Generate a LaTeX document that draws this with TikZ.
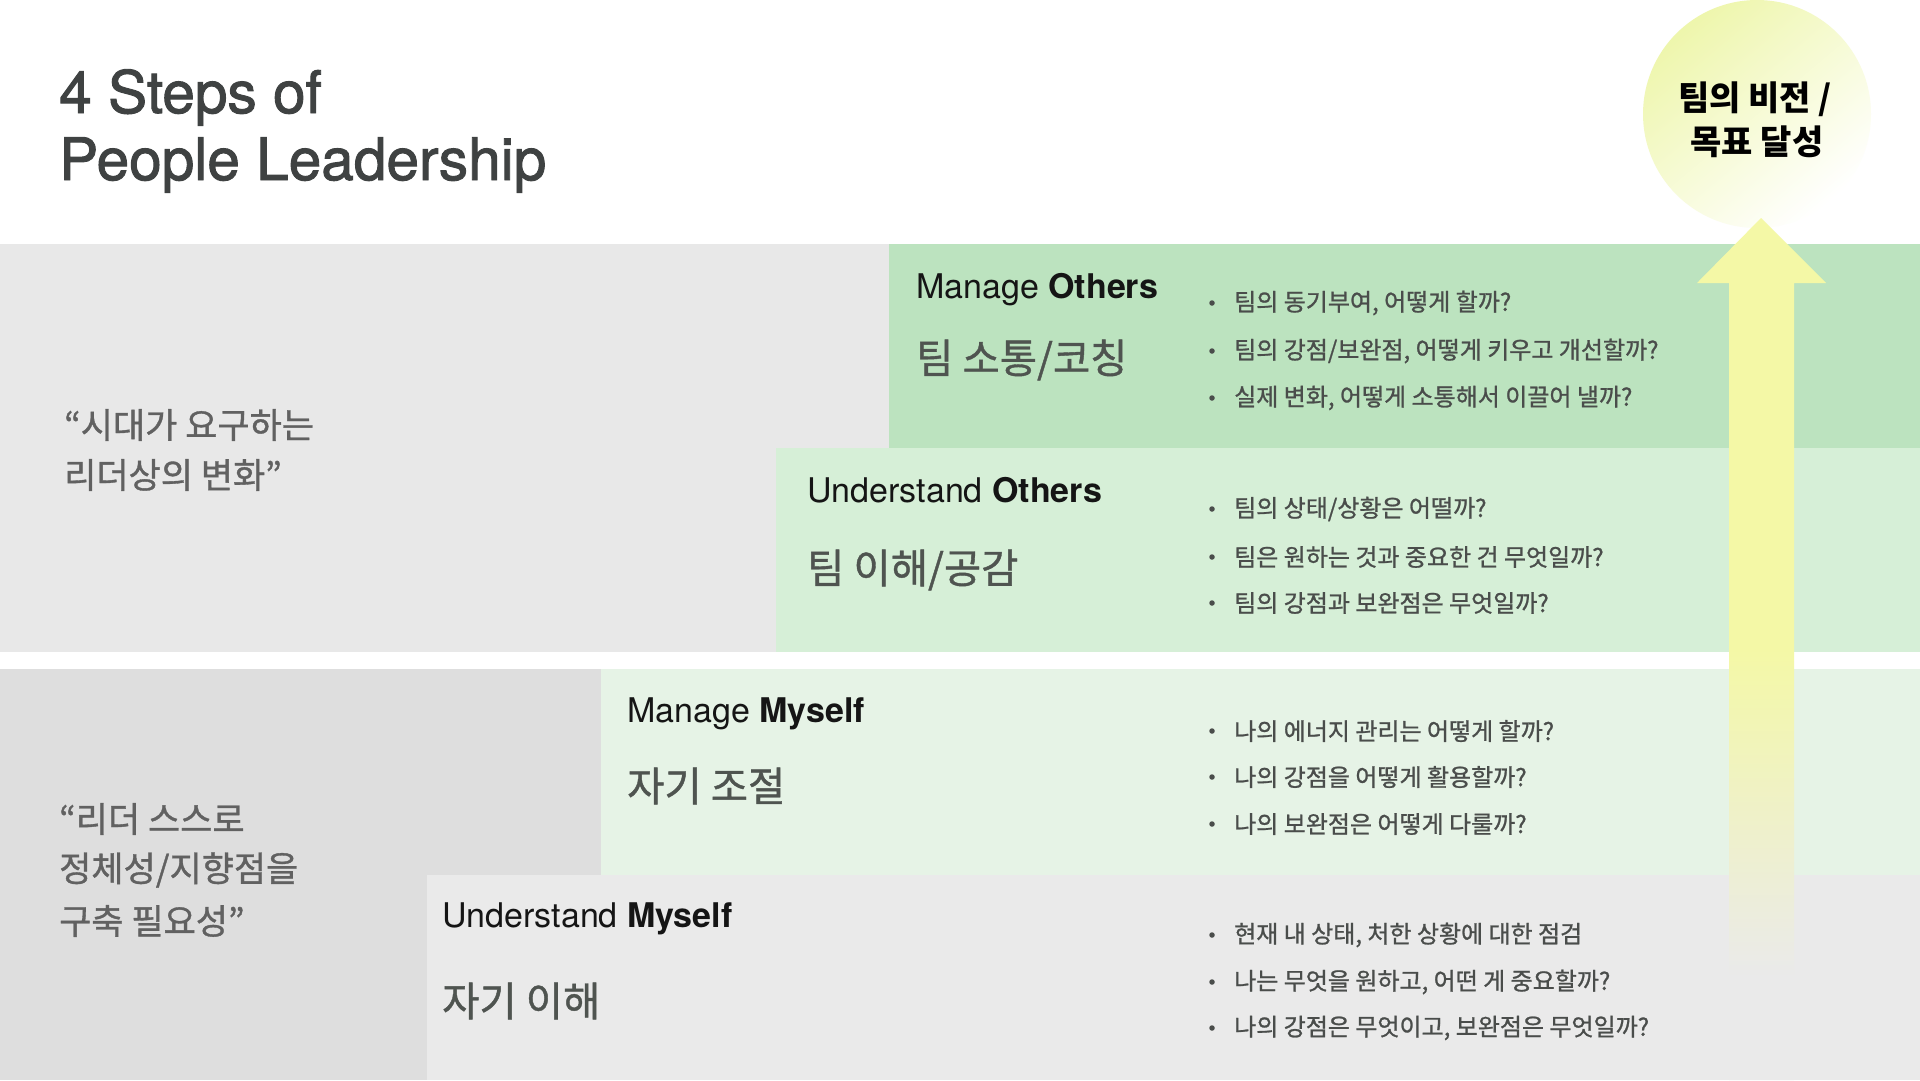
\documentclass[tikz,border=0pt]{standalone}
\usepackage{fontspec}
\setmainfont{TeX Gyre Heros}
\newfontfamily\titlefont{TeX Gyre Heros}[FakeBold=1.6]
\newfontfamily\kr{Noto Sans CJK KR}[FakeBold=1.0]
\newfontfamily\krb{Noto Sans CJK KR}
\definecolor{topgray}{HTML}{E8E8E8}
\definecolor{leftgray}{HTML}{DEDEDE}
\definecolor{umgray}{HTML}{EAEAEA}
\definecolor{mogreen}{HTML}{BCE3BF}
\definecolor{uogreen}{HTML}{D6EFD7}
\definecolor{mmgreen}{HTML}{E6F3E6}
\definecolor{arrowyellow}{HTML}{F4F8A6}
\definecolor{circleyellow}{HTML}{EEF6AC}
\definecolor{titlecol}{HTML}{3F4242}
\definecolor{headcol}{HTML}{151515}
\definecolor{korcol}{HTML}{4F5450}
\definecolor{bulcol}{HTML}{4A4D4B}
\definecolor{quotecol}{HTML}{616161}
\pgfdeclareverticalshading{arrowshade}{100bp}{color(0bp)=(umgray); color(31bp)=(umgray); color(50bp)=(arrowyellow); color(100bp)=(arrowyellow)}
\tikzset{
  titletext/.style={anchor=base west, inner sep=0pt, text=titlecol, font=\titlefont\fontsize{58.6}{67}\selectfont},
  headtext/.style={anchor=base west, inner sep=0pt, text=headcol, font=\fontsize{34}{40}\selectfont},
  kortext/.style={anchor=west, inner sep=0pt, text=korcol, font=\kr\fontsize{40.5}{48}\selectfont},
  bultext/.style={anchor=west, inner sep=0pt, text=bulcol, font=\kr\fontsize{24}{28}\selectfont},
  buldot/.style={circle, fill=bulcol, inner sep=0pt, minimum size=5.5pt},
  quotetext/.style={anchor=west, inner sep=0pt, text=quotecol, font=\kr\fontsize{35}{42}\selectfont},
  circletext/.style={anchor=center, inner sep=0pt, text=black, font=\krb\bfseries\fontsize{34}{40}\selectfont},
}
\begin{document}
\begin{tikzpicture}[x=1pt, y=-1pt]
\useasboundingbox (0,0) rectangle (1920,1080);
\fill[white] (0,0) rectangle (1920,1080);
% upper band
\fill[topgray] (0,244) rectangle (1920,652);
\fill[mogreen] (889,244) rectangle (1920,448);
\fill[uogreen] (776,448) rectangle (1920,652);
% lower band
\fill[leftgray] (0,669) rectangle (1920,1080);
\fill[mmgreen] (601,669) rectangle (1920,875);
\fill[umgray] (427,875) rectangle (1920,1080);
% goal circle
\shade[top color=circleyellow, bottom color=white, shading angle=40] (1757,114) circle (114);
% arrow
\shade[shading=arrowshade] (1761,218) -- (1826,283) -- (1794,283) -- (1794,1080) -- (1729,1080) -- (1729,283) -- (1697,283) -- cycle;
% title
\node[titletext] (t1) at (59,113) {4 Steps of};
\node[titletext] (t2) at (59,180) {People Leadership};
% circle text
\node[circletext] (g1) at (1755,99) {팀의 비전 /};
\node[circletext] (g2) at (1757,142) {목표 달성};
% quotes
\node[quotetext] (q1) at (64,425) {“시대가 요구하는};
\node[quotetext] (q2) at (64,475) {리더상의 변화”};
\node[quotetext] (q3) at (59,819) {“리더 스스로};
\node[quotetext] (q4) at (59,870) {정체성/지향점을};
\node[quotetext] (q5) at (59,921) {구축 필요성”};
% Manage Others
\node[headtext] (moh) at (916,298) {Manage \textbf{Others}};
\node[kortext] (mok) at (916,360) {팀 소통/코칭};
\node[buldot] (mo1d) at (1212,303) {};
\node[bultext] (mo1) at (1234,303) {팀의 동기부여, 어떻게 할까?};
\node[buldot] (mo2d) at (1212,351) {};
\node[bultext] (mo2) at (1234,351) {팀의 강점/보완점, 어떻게 키우고 개선할까?};
\node[buldot] (mo3d) at (1212,398) {};
\node[bultext] (mo3) at (1234,398) {실제 변화, 어떻게 소통해서 이끌어 낼까?};
% Understand Others
\node[headtext] (uoh) at (807,502) {Understand \textbf{Others}};
\node[kortext] (uok) at (807,570) {팀 이해/공감};
\node[buldot] (uo1d) at (1212,509) {};
\node[bultext] (uo1) at (1234,509) {팀의 상태/상황은 어떨까?};
\node[buldot] (uo2d) at (1212,557) {};
\node[bultext] (uo2) at (1234,557) {팀은 원하는 것과 중요한 건 무엇일까?};
\node[buldot] (uo3d) at (1212,603) {};
\node[bultext] (uo3) at (1234,603) {팀의 강점과 보완점은 무엇일까?};
% Manage Myself
\node[headtext] (mmh) at (627,722) {Manage \textbf{Myself}};
\node[kortext] (mmk) at (627,786) {자기 조절};
\node[buldot] (mm1d) at (1212,731) {};
\node[bultext] (mm1) at (1234,731) {나의 에너지 관리는 어떻게 할까?};
\node[buldot] (mm2d) at (1212,777) {};
\node[bultext] (mm2) at (1234,777) {나의 강점을 어떻게 활용할까?};
\node[buldot] (mm3d) at (1212,824) {};
\node[bultext] (mm3) at (1234,824) {나의 보완점은 어떻게 다룰까?};
% Understand Myself
\node[headtext] (umh) at (442,927) {Understand \textbf{Myself}};
\node[kortext] (umk) at (442,1001) {자기 이해};
\node[buldot] (um1d) at (1212,935) {};
\node[bultext] (um1) at (1234,935) {현재 내 상태, 처한 상황에 대한 점검};
\node[buldot] (um2d) at (1212,982) {};
\node[bultext] (um2) at (1234,982) {나는 무엇을 원하고, 어떤 게 중요할까?};
\node[buldot] (um3d) at (1212,1028) {};
\node[bultext] (um3) at (1234,1028) {나의 강점은 무엇이고, 보완점은 무엇일까?};
\end{tikzpicture}
\end{document}
